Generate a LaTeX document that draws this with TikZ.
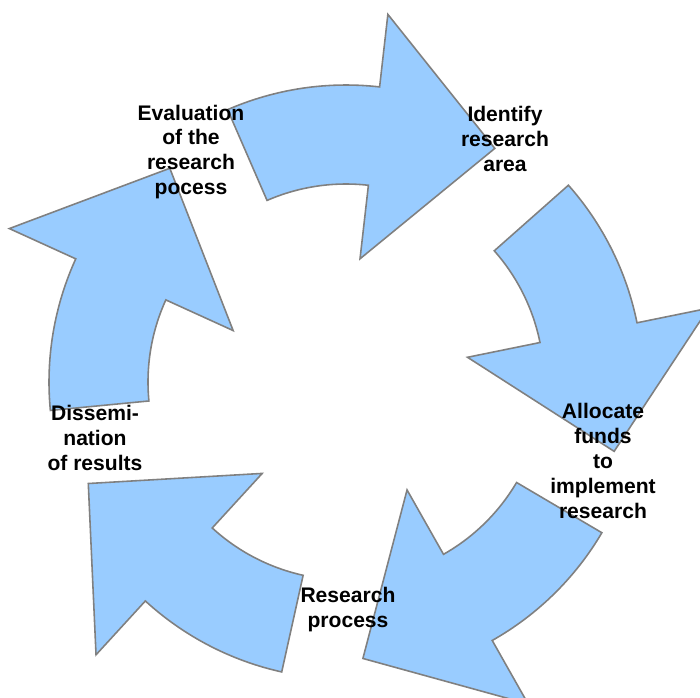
\documentclass[tikz,border=0pt]{standalone}
\usepackage{fontspec}
\setmainfont{Liberation Sans}
\definecolor{arrowblue}{HTML}{99CCFF}
\definecolor{arrowline}{HTML}{808080}
\begin{document}
\begin{tikzpicture}[
    blockarrow/.style={fill=arrowblue, draw=arrowline, line width=0.45pt, line join=miter},
    steplabel/.style={align=center, inner sep=0pt, font=\fontsize{6}{7.1}\selectfont\bfseries}
  ]
  \useasboundingbox (-3.46,-3.16) rectangle (3.54,3.82);
  \clip (-3.46,-3.16) rectangle (3.54,3.82);
  % five curved block arrows around the centre
  \draw[blockarrow] (113.5:2.97) arc[start angle=113.5, end angle=83.5, radius=2.97cm]
    -- (83.5:3.70) -- (57.5:2.77) -- (83.5:1.24) -- (83.5:1.98)
    arc[start angle=83.5, end angle=113.5, radius=1.98cm] -- cycle;
  \draw[blockarrow] (41.5:2.97) arc[start angle=41.5, end angle=11.5, radius=2.97cm]
    -- (11.5:3.70) -- (-14.5:2.77) -- (11.5:1.24) -- (11.5:1.98)
    arc[start angle=11.5, end angle=41.5, radius=1.98cm] -- cycle;
  \draw[blockarrow] (-30.5:2.97) arc[start angle=-30.5, end angle=-60.5, radius=2.97cm]
    -- (-60.5:3.70) -- (-86.5:2.77) -- (-60.5:1.24) -- (-60.5:1.98)
    arc[start angle=-60.5, end angle=-30.5, radius=1.98cm] -- cycle;
  \draw[blockarrow] (-102.5:2.97) arc[start angle=-102.5, end angle=-132.5, radius=2.97cm]
    -- (-132.5:3.70) -- (-158.5:2.77) -- (-132.5:1.24) -- (-132.5:1.98)
    arc[start angle=-132.5, end angle=-102.5, radius=1.98cm] -- cycle;
  \draw[blockarrow] (185.5:2.97) arc[start angle=185.5, end angle=155.5, radius=2.97cm]
    -- (155.5:3.70) -- (129.5:2.77) -- (155.5:1.24) -- (155.5:1.98)
    arc[start angle=155.5, end angle=185.5, radius=1.98cm] -- cycle;
  % step labels
  \node[steplabel] (identify) at (1.59,2.43) {Identify\\research\\area};
  \node[steplabel] (allocate) at (2.57,-0.79) {Allocate\\funds\\to\\implement\\research};
  \node[steplabel] (process) at (0.02,-2.28) {Research\\process};
  \node[steplabel] (dissem) at (-2.51,-0.56) {Dissemi-\\nation\\of results};
  \node[steplabel] (evaluation) at (-1.55,2.30) {Evaluation\\of the\\research\\pocess};
\end{tikzpicture}
\end{document}
